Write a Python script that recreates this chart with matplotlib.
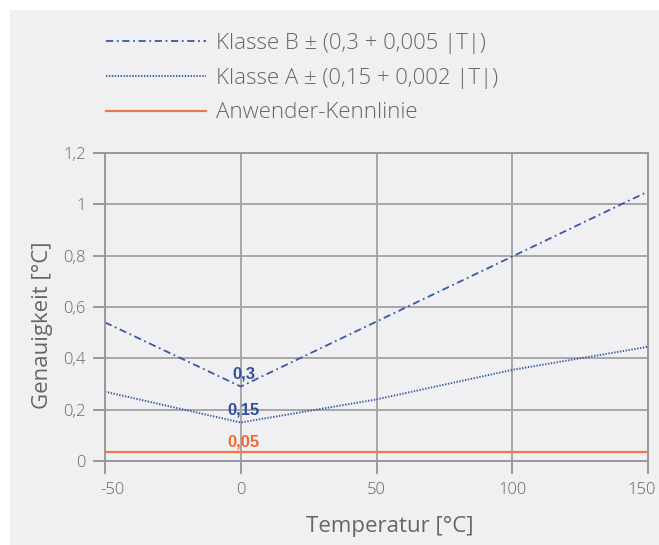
import matplotlib
matplotlib.use("Agg")
import matplotlib.pyplot as plt
from matplotlib.patches import Rectangle
from matplotlib.transforms import ScaledTranslation

# Data
temp_b = [-50, 0, 150]
klasse_b = [0.54, 0.29, 1.05]
temp_a = [-50, 0, 50, 100, 150]
klasse_a = [0.27, 0.15, 0.24, 0.355, 0.445]
temp_user = [-50, 150]
user_line = [0.035, 0.035]

x_ticks = [-50, 0, 50, 100, 150]
x_ticklabels = ["-50", "0", "50", "100", "150"]
y_ticks = [0, 0.2, 0.4, 0.6, 0.8, 1.0, 1.2]
y_ticklabels = ["0", "0,2", "0,4", "0,6", "0,8", "1", "1,2"]

legend_labels = ["Klasse B ± (0,3 + 0,005 |T|)",
                 "Klasse A ± (0,15 + 0,002 |T|)",
                 "Anwender-Kennlinie"]
annotation_texts = ["0,3", "0,15", "0,05"]
annotation_x = [0, 0, 0]
annotation_y = [0.29, 0.15, 0.035]

BG = "#f0f0f2"
TXT = "#666666"
GRID = "#a6a6a6"
BLUE = "#3a58a8"
LBLUE = "#2f4f9c"
ORANGE = "#f07845"
annotation_colors = [LBLUE, LBLUE, "#f06a35"]

plt.rcParams['font.family'] = ['Open Sans', 'DejaVu Sans']
plt.rcParams['font.weight'] = 'light'

fig = plt.figure(figsize=(6.59, 5.45), dpi=100)
fig.patch.set_facecolor("white")
fig.patches.append(Rectangle((10/659, 0), 1, 1 - 10/545, transform=fig.transFigure,
                             facecolor=BG, edgecolor="none", zorder=-10))

ax = fig.add_axes([105/659, (545-461)/545, (648-105)/659, (461-153)/545])
ax.set_facecolor(BG)

lb, = ax.plot(temp_b, klasse_b, color=BLUE, lw=1.3, linestyle=(0, (4, 2, 1, 2)))
la, = ax.plot(temp_a, klasse_a, color=BLUE, lw=1.4, linestyle=(0, (0.7, 0.8)))
lu, = ax.plot(temp_user, user_line, color=ORANGE, lw=1.6)

ax.set_xlim(-50, 150)
ax.set_ylim(0, 1.2)
ax.set_xticks(x_ticks)
ax.set_xticklabels(x_ticklabels)
ax.set_yticks(y_ticks)
ax.set_yticklabels(y_ticklabels)
ax.grid(True, color=GRID, lw=1.4)
ax.set_axisbelow(True)
for s in ax.spines.values():
    s.set_color("#999999")
    s.set_linewidth(1.4)
ax.tick_params(axis='both', colors="#999999", length=9, width=1.4, labelcolor=TXT, labelsize=12)
ax.tick_params(axis='x', pad=6)
ax.tick_params(axis='y', pad=5)

xl = ax.get_xticklabels()
xl[0].set_transform(xl[0].get_transform() + ScaledTranslation(7/100, 0, fig.dpi_scale_trans))
xl[-1].set_transform(xl[-1].get_transform() + ScaledTranslation(-6/100, 0, fig.dpi_scale_trans))

ax.set_xlabel("Temperatur [°C]", fontsize=16, color=TXT, labelpad=12)
ax.xaxis.set_label_coords((390-105)/543, -(516-461)/308)
ax.set_ylabel("Genauigkeit [°C]", fontsize=16, color=TXT, labelpad=12)
ax.yaxis.set_label_coords(-(105-53)/543, (461-325)/308)

label_dy = [0.033, 0.033, 0.023]
for txt, x, y, c, dy in zip(annotation_texts, annotation_x, annotation_y, annotation_colors, label_dy):
    ax.text(x + 1.0, y + dy, txt, ha="center", va="baseline", fontsize=12, fontweight="bold",
            color=c, family=["Liberation Sans", "DejaVu Sans"])

fig.legend([lb, la, lu], legend_labels, loc="upper left", bbox_to_anchor=(97/659, 1 - 24/545),
           frameon=False, fontsize=16, labelcolor=TXT, handlelength=4.5, handletextpad=0.45,
           labelspacing=0.62, borderaxespad=0)

fig.savefig("out.png", dpi=100, facecolor=fig.get_facecolor())
